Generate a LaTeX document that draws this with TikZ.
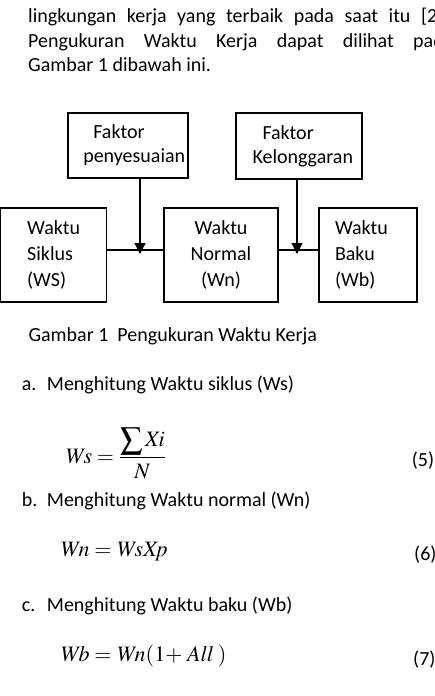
\documentclass[tikz,border=0pt]{standalone}
\usepackage{mathptmx}
\usepackage[no-math]{fontspec}
\setmainfont{Carlito}
\usetikzlibrary{arrows.meta,positioning}

\begin{document}
\begin{tikzpicture}[x=1pt,y=-1pt,
  teks/.style={anchor=base west,inner sep=0pt,font=\fontsize{20}{24}\selectfont},
  rumus/.style={anchor=base west,inner sep=0pt,font=\fontsize{22}{26}\selectfont},
  kotak/.style={draw,line width=1.2pt,align=left,inner sep=0pt,
    font=\fontsize{20}{26}\selectfont},
  garis/.style={line width=1.2pt},
  panah/.style={line width=1.2pt,-{Triangle[width=11pt,length=11pt]}}]
  \useasboundingbox (0,0) rectangle (434,696);
  % paragraf
  \node[teks] (p1) at (28,23) {\makebox[409.2pt][s]{lingkungan kerja yang terbaik pada saat itu [2}};
  \node[teks] (p2) at (28,47.3) {\makebox[415.6pt][s]{Pengukuran Waktu Kerja dapat dilihat pad}};
  \node[teks] (p3) at (28,71.7) {Gambar 1 dibawah ini.};
  % diagram
  \node[kotak,minimum width=120pt,minimum height=65pt,font=\fontsize{20}{24}\selectfont]
    (fp) at (128,145.5) {\hspace*{22.5pt}Faktor\\\hspace*{12.5pt}penyesuaian};
  \node[kotak,minimum width=126pt,minimum height=66pt,font=\fontsize{20}{24}\selectfont]
    (fk) at (299,146) {\hspace*{17.5pt}Faktor\\\hspace*{7.5pt}Kelonggaran};
  \node[kotak,minimum width=106pt,minimum height=94pt] (ws) at (53.6,255) {Waktu\\Siklus\\(WS)};
  \node[kotak,minimum width=114pt,minimum height=94pt,align=center] (wn) at (221,255) {Waktu\\Normal\\(Wn)};
  \node[kotak,minimum width=98pt,minimum height=94pt] (wb) at (368,255) {\makebox[66pt][l]{Waktu}\\Baku\\(Wb)};
  \coordinate (j1) at (140,250);
  \coordinate (j2) at (297,250);
  \draw[garis] (ws.east |- j1) -- (wn.west |- j1);
  \draw[garis] (wn.east |- j2) -- (wb.west |- j2);
  \draw[panah] (fp.south -| j1) -- ([yshift=-4pt]j1);
  \draw[panah] (fk.south -| j2) -- ([yshift=-4pt]j2);
  % keterangan dan rumus
  \node[teks] (cap) at (28.3,341.7) {Gambar 1\ \ Pengukuran Waktu Kerja};
  \node[teks] (la) at (21.7,390) {a.};
  \node[teks] (ta) at (46.7,390) {Menghitung Waktu siklus (Ws)};
  \node[rumus] (r5) at (65,463) {$\displaystyle \mathit{Ws}=\frac{\displaystyle\sum \mathit{Xi}}{\mathit{N}}$};
  \node[teks] (n5) at (411.7,466) {(5)};
  \node[teks] (lb) at (21.7,506.7) {b.};
  \node[teks] (tb) at (46.7,506.7) {Menghitung Waktu normal (Wn)};
  \node[rumus] (r6) at (60,556.7) {$\mathit{Wn}=\mathit{WsXp}$};
  \node[teks] (n6) at (414,560) {(6)};
  \node[teks] (lc) at (21.7,611.7) {c.};
  \node[teks] (tc) at (46.7,611.7) {Menghitung Waktu baku (Wb)};
  \node[rumus] (r7) at (60,661.7) {$\mathit{Wb}=\mathit{Wn}(1{+}\;\mathit{All}\;)$};
  \node[teks] (n7) at (413,665) {(7)};
\end{tikzpicture}
\end{document}
